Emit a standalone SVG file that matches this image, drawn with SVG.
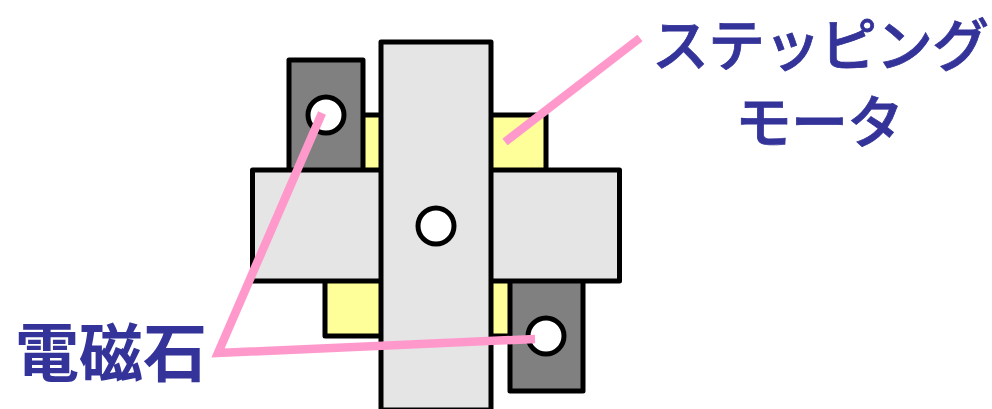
<svg xmlns="http://www.w3.org/2000/svg" width="992" height="409" viewBox="0 0 992 409">
<style>
.s{stroke:#000;stroke-width:5;stroke-linejoin:round}
.body{fill:#e5e5e5}
.yellow{fill:#ffff99}
.mag{fill:#808080}
.hole{fill:#fff}
.lead{fill:none;stroke:#ff99cc;stroke-width:8.5;stroke-linecap:butt;stroke-linejoin:miter}
text{fill:#333399;font-family:"Noto Sans CJK JP","Liberation Sans",sans-serif}
.t{font-size:57px;font-weight:500;letter-spacing:-1px;stroke:#333399;stroke-width:0.8px}
.k{font-size:64px;font-weight:700}
</style>
<rect width="992" height="409" fill="#fff"/>
<g id="stepper-top"><rect class="s yellow" x="326" y="115" width="220" height="60"/></g>
<g id="stepper-bottom"><rect class="s yellow" x="325" y="276" width="190" height="60"/></g>
<g id="magnet-top"><rect class="s mag" x="289" y="60" width="74" height="112"/><circle class="s hole" cx="326" cy="115" r="18"/></g>
<g id="magnet-bottom"><rect class="s mag" x="510" y="279" width="73" height="112"/><circle class="s hole" cx="546" cy="336" r="18"/></g>
<g id="bar-horizontal"><rect class="s body" x="252.500" y="170" width="367" height="111"/></g>
<g id="bar-vertical"><rect class="s body" x="381" y="42" width="110" height="368"/><circle class="s hole" cx="436" cy="226" r="18"/></g>
<g id="connectors">
<path class="lead" d="M322 113L218 353L535 339"/>
<path class="lead" d="M505 142L640 38"/>
</g>
<g id="label-stepper"><text class="t" x="820" y="66" text-anchor="middle">ステッピング</text><text class="t" x="819" y="143" text-anchor="middle">モータ</text></g>
<g id="label-magnet"><text class="k" x="111" y="376" text-anchor="middle">電磁石</text></g>
</svg>
